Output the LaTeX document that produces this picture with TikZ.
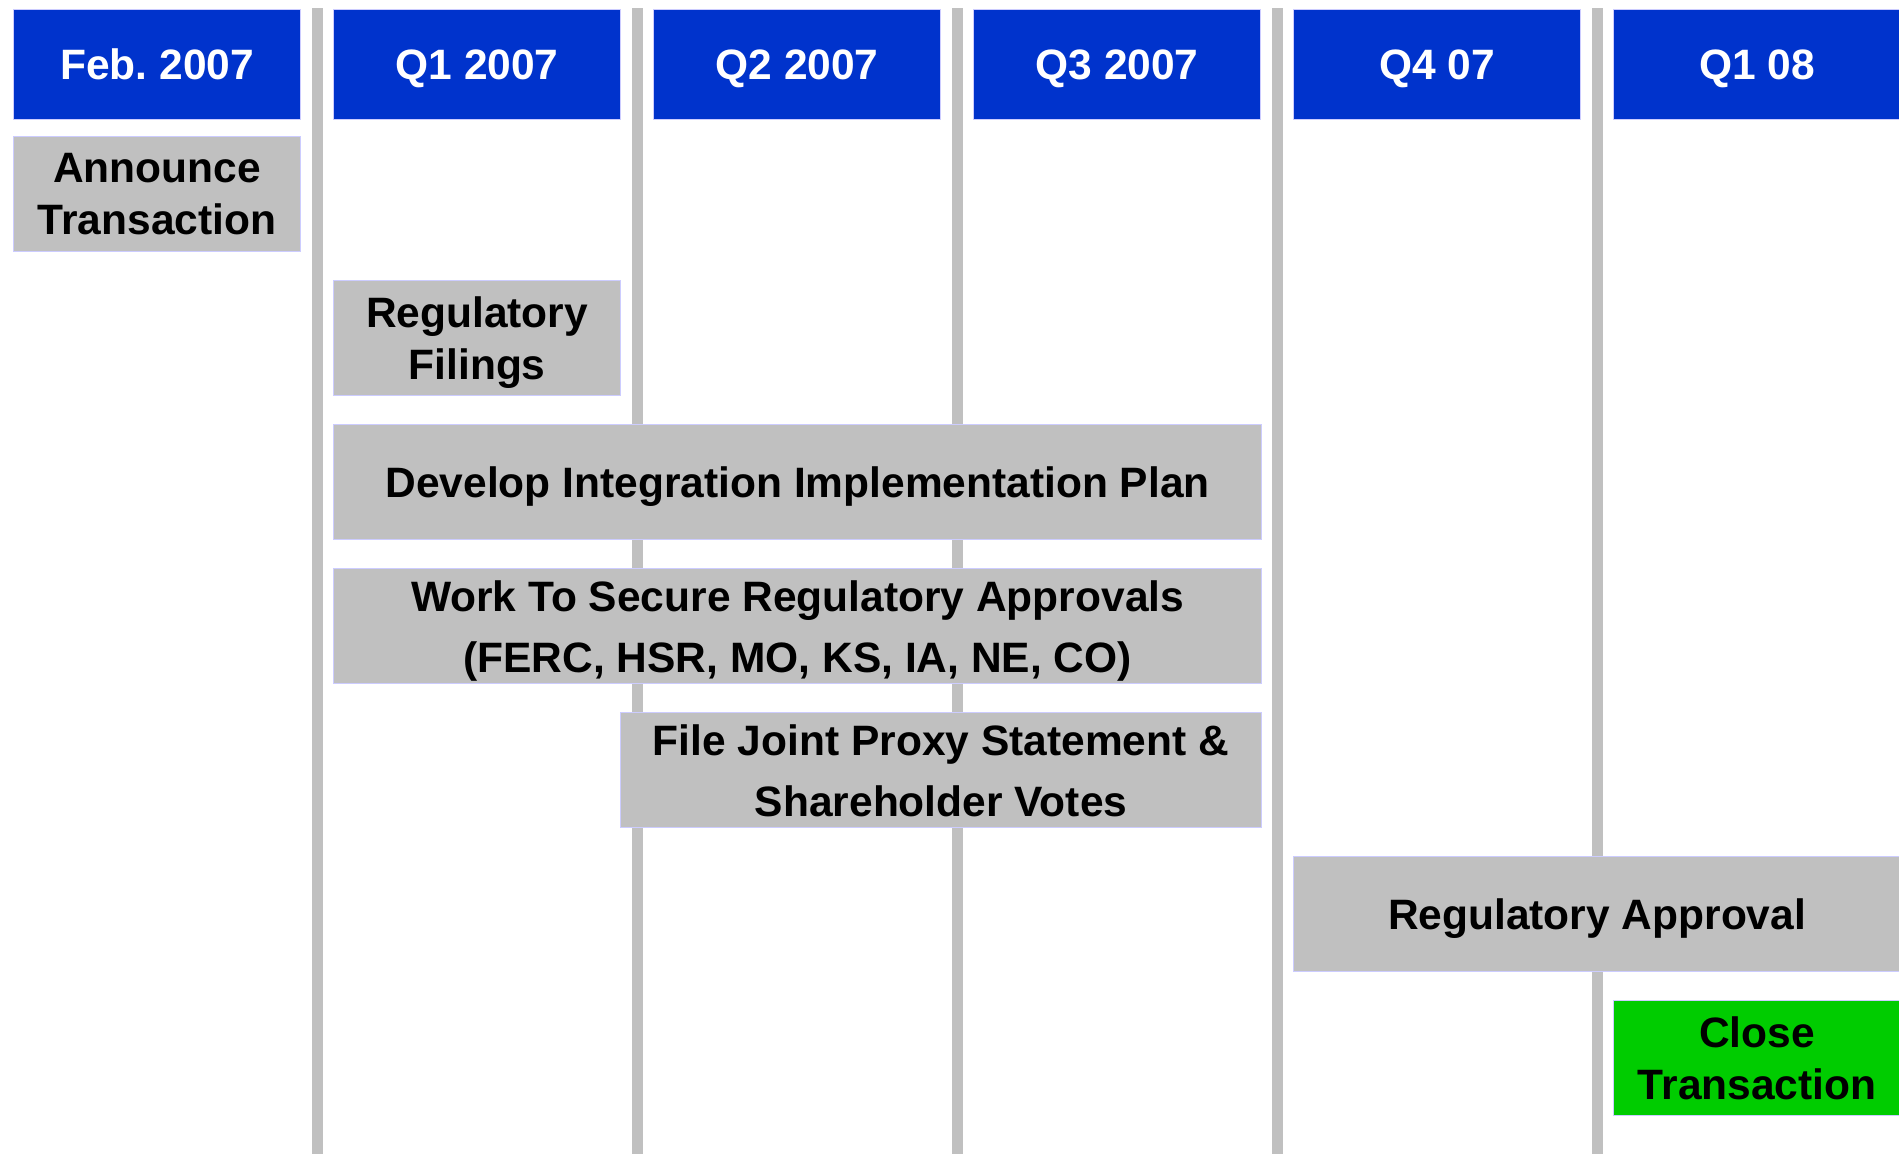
\documentclass[tikz,border=0pt]{standalone}
\usepackage{fontspec}
\setmainfont{Liberation Sans}
\definecolor{hdrblue}{HTML}{0033CC}
\definecolor{taskgray}{HTML}{C0C0C0}
\definecolor{closegreen}{HTML}{00CC00}
\definecolor{edgelav}{HTML}{CCCCFF}
\tikzset{
  hdrbox/.style={fill=hdrblue, draw=edgelav, line width=1.2pt, text=white, inner sep=0pt, anchor=north west,
    minimum width=287pt, minimum height=110pt, text height=30.5pt, text depth=0pt,
    font=\bfseries\fontsize{42.5}{52}\selectfont},
  taskbox/.style={fill=taskgray, draw=edgelav, line width=1.2pt, inner sep=0pt, anchor=north west, align=center,
    minimum height=115pt, text depth=0pt, font=\bfseries\fontsize{42.5}{52}\selectfont},
  widerows/.style={font=\bfseries\fontsize{42.5}{61}\selectfont}
}
\begin{document}
\begin{tikzpicture}[x=1pt,y=-1pt]
\useasboundingbox (0,0) rectangle (1899,1154);
\fill[white] (0,0) rectangle (1899,1154);
\fill[taskgray] (311.5,8) rectangle (322.5,1154);
\fill[taskgray] (631.5,8) rectangle (642.5,1154);
\fill[taskgray] (951.5,8) rectangle (962.5,1154);
\fill[taskgray] (1271.5,8) rectangle (1282.5,1154);
\fill[taskgray] (1591.5,8) rectangle (1602.5,1154);
\node[hdrbox] (feb07) at (13,8.5) {Feb.\ 2007};
\node[hdrbox] (q107) at (333,8.5) {Q1 2007};
\node[hdrbox] (q207) at (653,8.5) {Q2 2007};
\node[hdrbox] (q307) at (973,8.5) {Q3 2007};
\node[hdrbox] (q407) at (1293,8.5) {Q4 07};
\node[hdrbox] (q108) at (1613,8.5) {Q1 08};
\node[taskbox, minimum width=287pt] (announce) at (13,136) {Announce\\Transaction};
\node[taskbox, minimum width=287pt] (filings) at (333,280) {Regulatory\\Filings};
\node[taskbox, minimum width=928pt] (plan) at (333,424) {Develop Integration Implementation Plan};
\node[taskbox, widerows, minimum width=928pt] (secure) at (333,568) {Work To Secure Regulatory Approvals\\(FERC, HSR, MO, KS, IA, NE, CO)};
\node[taskbox, widerows, minimum width=641pt] (proxy) at (620,712) {File Joint Proxy Statement \&\\Shareholder Votes};
\node[taskbox, minimum width=607pt] (approval) at (1293,856) {Regulatory Approval};
\node[taskbox, fill=closegreen, minimum width=287pt] (close) at (1613,1000) {Close\\Transaction};
\end{tikzpicture}
\end{document}
